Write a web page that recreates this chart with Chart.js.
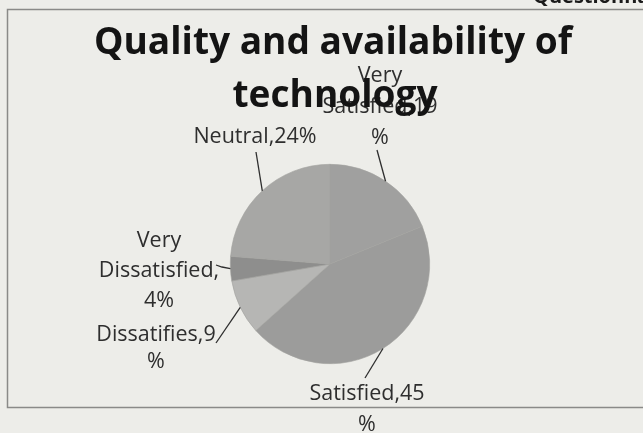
<!DOCTYPE html>
<html><head><meta charset="utf-8">
<script src="https://cdn.jsdelivr.net/npm/chart.js@4/dist/chart.umd.min.js"></script>
<style>html,body{margin:0;padding:0;background:#edede9;overflow:hidden}#wrap{width:643px;height:433px;position:relative}</style>
</head><body><div id="wrap"><canvas id="c" width="643" height="433"></canvas></div>
<script>
// ---- data ----
const categories = ["Very Satisfied", "Satisfied", "Dissatifies", "Very Dissatisfied", "Neutral"];
const values = [19, 45, 9, 4, 24];
const titleLines = ["Quality and availability of", "technology"];
const headerText = "Questionnaire";

// ---- styling / layout ----
const sliceColors = ["#a0a09f", "#9c9c9b", "#b6b6b4", "#8e8e8d", "#a7a7a5"];
// character positions where each wrapped data label breaks
const labelBreaks = [[4, 17], [12], [13], [4, 18], []];
// label placement: centre x, first baseline, line height
const labelPos = [
  {x: 380, y: 82, lh: 31},
  {x: 367, y: 400, lh: 31},
  {x: 156, y: 341, lh: 27},
  {x: 159, y: 247, lh: 30},
  {x: 255, y: 143, lh: 0}
];
// leader-line end at the label side (optional bend point)
const leaderEnds = [
  [[377, 150]],
  [[365, 378]],
  [[216, 343]],
  [[216, 265], [222, 267]],
  [[256, 152]]
];

function wrapLabel(s, breaks) {
  const out = []; let start = 0;
  breaks.forEach(b => { out.push(s.slice(start, b).trim()); start = b; });
  out.push(s.slice(start).trim());
  return out;
}

const decor = {
  id: 'decor',
  beforeDraw(chart) {
    const ctx = chart.ctx;
    ctx.save();
    ctx.fillStyle = '#edede9';
    ctx.fillRect(0, 0, chart.width, chart.height);
    ctx.strokeStyle = '#8a8a88';
    ctx.lineWidth = 1.5;
    ctx.beginPath();
    ctx.moveTo(660, 9.5); ctx.lineTo(7.5, 9.5); ctx.lineTo(7.5, 407.5); ctx.lineTo(660, 407.5);
    ctx.stroke();
    ctx.fillStyle = '#1a1a1a';
    ctx.font = 'bold 20px "Open Sans"';
    ctx.textAlign = 'left';
    ctx.textBaseline = 'alphabetic';
    ctx.fillText(headerText, 533, 3);
    ctx.restore();
  },
  afterDraw(chart) {
    const ctx = chart.ctx;
    const meta = chart.getDatasetMeta(0);
    ctx.save();
    // leader lines
    ctx.strokeStyle = '#2e2e2e';
    ctx.lineWidth = 1.3;
    meta.data.forEach((arc, i) => {
      const p = arc.getProps(['x', 'y', 'startAngle', 'endAngle', 'outerRadius'], true);
      const mid = (p.startAngle + p.endAngle) / 2;
      const ex = p.x + Math.cos(mid) * p.outerRadius;
      const ey = p.y + Math.sin(mid) * p.outerRadius;
      const pts = leaderEnds[i];
      ctx.beginPath();
      ctx.moveTo(pts[0][0], pts[0][1]);
      for (let k = 1; k < pts.length; k++) ctx.lineTo(pts[k][0], pts[k][1]);
      ctx.lineTo(ex, ey);
      ctx.stroke();
    });
    // data labels
    ctx.fillStyle = '#2e2e2e';
    ctx.font = '21.5px "Open Sans"';
    ctx.textAlign = 'center';
    ctx.textBaseline = 'alphabetic';
    categories.forEach((c, i) => {
      const lines = wrapLabel(c + ',' + values[i] + '%', labelBreaks[i]);
      const lp = labelPos[i];
      lines.forEach((ln, k) => ctx.fillText(ln, lp.x, lp.y + k * lp.lh));
    });
    // title (drawn last, overlaps label as in original)
    ctx.fillStyle = '#141414';
    ctx.font = 'bold 40px "Open Sans"';
    const w = ctx.measureText(titleLines[0]).width;
    const fs = 40 * 478 / w;
    ctx.font = 'bold ' + fs.toFixed(2) + 'px "Open Sans"';
    ctx.fillText(titleLines[0], 333, 54);
    ctx.fillText(titleLines[1], 335, 107);
    ctx.restore();
  }
};

new Chart(document.getElementById('c'), {
  type: 'pie',
  data: {
    labels: categories,
    datasets: [{
      data: values,
      backgroundColor: sliceColors,
      borderColor: '#a2a2a0',
      borderWidth: 0.6,
      hoverOffset: 0
    }]
  },
  options: {
    responsive: false,
    animation: false,
    devicePixelRatio: 1,
    layout: {padding: {left: 230, right: 213, top: 164, bottom: 69}},
    plugins: {legend: {display: false}, tooltip: {enabled: false}, title: {display: false}}
  },
  plugins: [decor]
});
</script>
</body></html>
